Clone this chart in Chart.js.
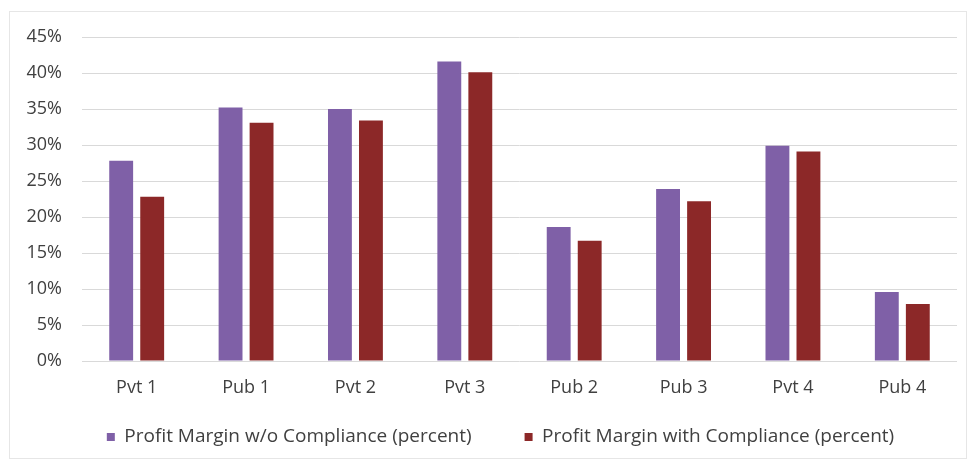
<!DOCTYPE html>
<html>
<head>
<meta charset="utf-8">
<script src="https://cdn.jsdelivr.net/npm/chart.js@4/dist/chart.umd.min.js"></script>
<style>
  html, body { margin: 0; padding: 0; background: #ffffff; }
  #frame { position: absolute; left: 9px; top: 11px; width: 958px; height: 448px; border: 1px solid #e6e6e6; box-sizing: border-box; }
  #wrap { position: absolute; left: 0; top: 0; width: 971px; height: 463px; }
</style>
</head>
<body>
<div id="frame"></div>
<div id="wrap"><canvas id="c" width="971" height="463"></canvas></div>
<script>
const categories = ['Pvt 1', 'Pub 1', 'Pvt 2', 'Pvt 3', 'Pub 2', 'Pub 3', 'Pvt 4', 'Pub 4'];
const seriesNames = ['Profit Margin w/o Compliance (percent)', 'Profit Margin with Compliance (percent)'];
const marginWithout = [27.8, 35.2, 35.0, 41.6, 18.6, 23.9, 29.9, 9.6];
const marginWith = [22.8, 33.1, 33.4, 40.1, 16.7, 22.2, 29.1, 7.9];
const yTicks = [0, 5, 10, 15, 20, 25, 30, 35, 40, 45];

const textColor = '#404040';
const gridColor = '#d9d9d9';

// moves the legend box to where the reference has it (and keeps it tall enough not to clip)
const legendShift = {
  id: 'legendShift',
  afterLayout(chart) {
    const lg = chart.legend;
    if (!lg) return;
    const dx = 9.5, dy = -26.5, h = 84;
    lg.left += dx; lg.right += dx;
    lg.top += dy; lg.height = h; lg.bottom = lg.top + h;
  }
};

new Chart(document.getElementById('c'), {
  type: 'bar',
  data: {
    labels: categories,
    datasets: [
      { label: seriesNames[0], data: marginWithout, backgroundColor: '#7F60A7', borderWidth: 0,
        categoryPercentage: 0.567, barPercentage: 0.77 },
      { label: seriesNames[1], data: marginWith, backgroundColor: '#8C2828', borderWidth: 0,
        categoryPercentage: 0.567, barPercentage: 0.77 }
    ]
  },
  plugins: [legendShift],
  options: {
    responsive: false,
    animation: false,
    layout: { padding: { left: 25, right: 14, top: 37, bottom: 0 } },
    plugins: {
      tooltip: { enabled: false },
      legend: {
        position: 'bottom',
        maxHeight: 62,
        labels: {
          boxWidth: 8, boxHeight: 8, padding: 53,
          color: textColor,
          font: { family: 'Open Sans', size: 19 }
        }
      }
    },
    scales: {
      x: {
        grid: { display: false, drawTicks: false },
        border: { display: false },
        ticks: { color: textColor, font: { family: 'Open Sans', size: 18 }, padding: 16, maxRotation: 0 },
        afterFit: s => { s.height = 40; }
      },
      y: {
        min: 0, max: 45,
        grid: { color: gridColor, lineWidth: 1, drawTicks: false },
        border: { display: false },
        afterBuildTicks: s => { s.ticks = yTicks.map(v => ({ value: v })); },
        ticks: { color: textColor, font: { family: 'Open Sans', size: 18 }, padding: 20,
                 callback: v => v + '%' },
        afterFit: s => { s.width = 57; }
      }
    }
  }
});
</script>
</body>
</html>
